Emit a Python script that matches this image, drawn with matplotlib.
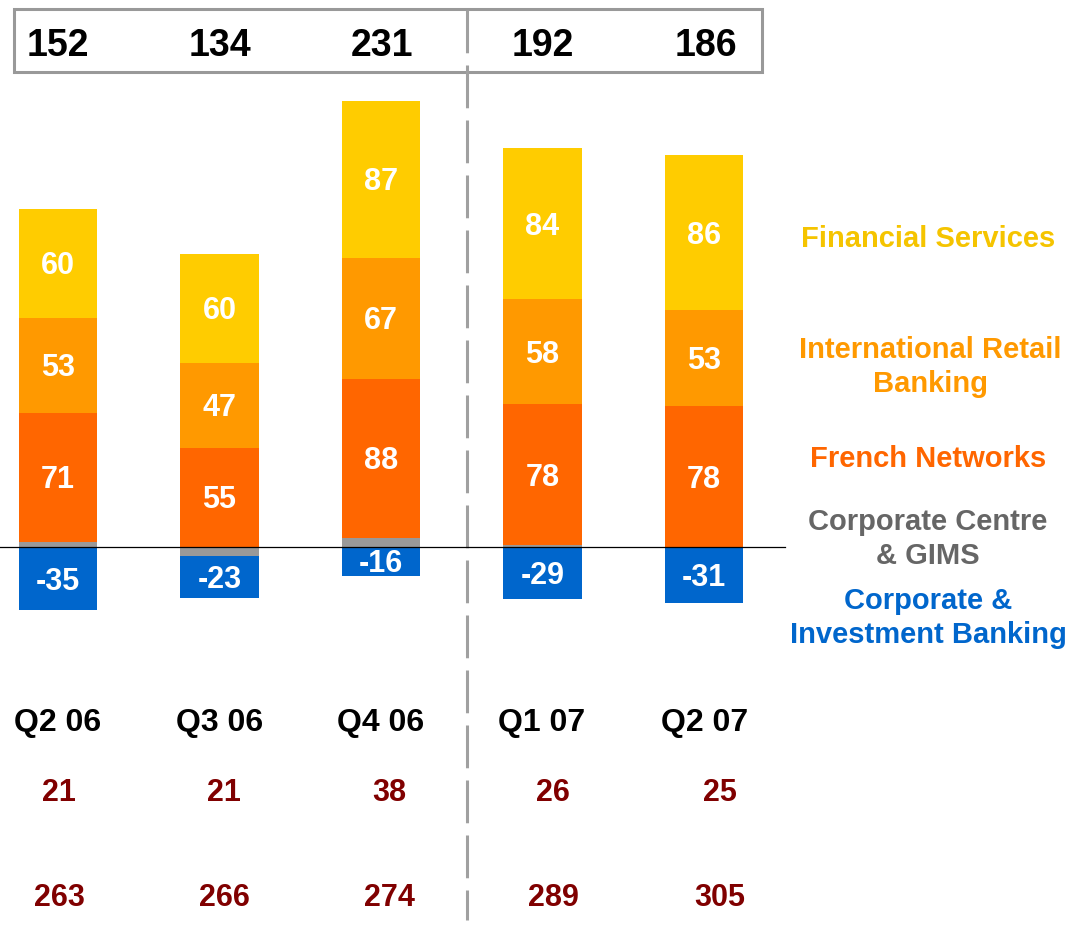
import matplotlib
matplotlib.use("Agg")
import matplotlib.pyplot as plt
from matplotlib import font_manager
from matplotlib.patches import Rectangle

quarters = ["Q2 06", "Q3 06", "Q4 06", "Q1 07", "Q2 07"]
cib = [-35, -23, -16, -29, -31]
corp_centre = [3, -5, 5, 1, 0]
french_networks = [71, 55, 88, 78, 78]
intl_retail = [53, 47, 67, 58, 53]
fin_services = [60, 60, 87, 84, 86]
totals = [152, 134, 231, 192, 186]
row1 = [21, 21, 38, 26, 25]
row2 = [263, 266, 274, 289, 305]

c_fs = "#FFCC00"
c_irb = "#FF9900"
c_fn = "#FF6600"
c_cc = "#999999"
c_cib = "#0066CC"
c_red = "#800000"

names = {f.name for f in font_manager.fontManager.ttflist}
font = "Liberation Sans" if "Liberation Sans" in names else "DejaVu Sans"

fig = plt.figure(figsize=(10.83, 9.25), dpi=100)
ax = fig.add_axes([0, 0, 1, 1])
ax.set_axis_off()

# pixel layout: bar centres 58 + 161.5*i, zero at y=547, 1.807 px per unit
px = lambda p: (p - 58) / 161.5
py = lambda p: (547 - p) / 1.807
ax.set_xlim(px(0), px(1083))
ax.set_ylim(py(925), py(0))

x = list(range(len(quarters)))
w = 0.483

# positive stack
base_pos = [max(c, 0) for c in corp_centre]
ax.bar(x, base_pos, w, bottom=0, color=c_cc, zorder=2)
ax.bar(x, french_networks, w, bottom=base_pos, color=c_fn, zorder=2)
b2 = [a + b for a, b in zip(base_pos, french_networks)]
ax.bar(x, intl_retail, w, bottom=b2, color=c_irb, zorder=2)
b3 = [a + b for a, b in zip(b2, intl_retail)]
ax.bar(x, fin_services, w, bottom=b3, color=c_fs, zorder=2)

# negative stack
base_neg = [min(c, 0) for c in corp_centre]
ax.bar(x, base_neg, w, bottom=0, color=c_cc, zorder=2)
ax.bar(x, cib, w, bottom=base_neg, color=c_cib, zorder=2)

dy = 3 / 1.807  # nudge text down a few pixels
lab = dict(color="white", fontsize=22, fontweight="bold", family=font,
           ha="center", va="center", zorder=3)
for i in x:
    ax.text(i, base_pos[i] + french_networks[i] / 2 - dy, str(french_networks[i]), **lab)
    ax.text(i, b2[i] + intl_retail[i] / 2 - dy, str(intl_retail[i]), **lab)
    ax.text(i, b3[i] + fin_services[i] / 2 - dy, str(fin_services[i]), **lab)
    ax.text(i, base_neg[i] + cib[i] / 2 - dy, str(cib[i]), **lab)

# zero line
ax.plot([px(0), px(785)], [0, 0], color="black", lw=0.9, zorder=4)

# totals box
ax.add_patch(Rectangle((px(14), py(72)), px(762) - px(14), py(9) - py(72),
                       fill=False, edgecolor="#999999", lw=2.2, zorder=1))

tot_x = [58, 220, 382, 543, 706]
q_x = [58, 220, 381, 542, 705]
r_x = [59, 224, 389, 553, 720]
txt = dict(fontweight="bold", family=font, ha="center", va="center")
for i in x:
    ax.text(px(tot_x[i]), py(46), str(totals[i]), fontsize=27, color="black", **txt)
    ax.text(px(q_x[i]), py(723), quarters[i], fontsize=23, color="black", **txt)
    ax.text(px(r_x[i]), py(793), str(row1[i]), fontsize=22, color=c_red, **txt)
    ax.text(px(r_x[i]), py(898), str(row2[i]), fontsize=22, color=c_red, **txt)

# dashed divider
ax.plot([px(467), px(467)], [py(10), py(920)], color="#A0A0A0", lw=2.2,
        linestyle=(0, (14, 4)), zorder=1)

# segment legend on the right
leg = dict(fontsize=21, fontweight="bold", family=font, ha="center", va="center",
           linespacing=1.3)
ax.text(px(928), py(239), "Financial Services", color="#F5C400", **leg)
ax.text(px(930), py(367), "International Retail\nBanking", color=c_irb, **leg)
ax.text(px(928), py(459), "French Networks", color=c_fn, **leg)
ax.text(px(928), py(539), "Corporate Centre\n& GIMS", color="#666666", **leg)
ax.text(px(928), py(618), "Corporate &\nInvestment Banking", color=c_cib, **leg)

fig.savefig("out.png", dpi=100)
